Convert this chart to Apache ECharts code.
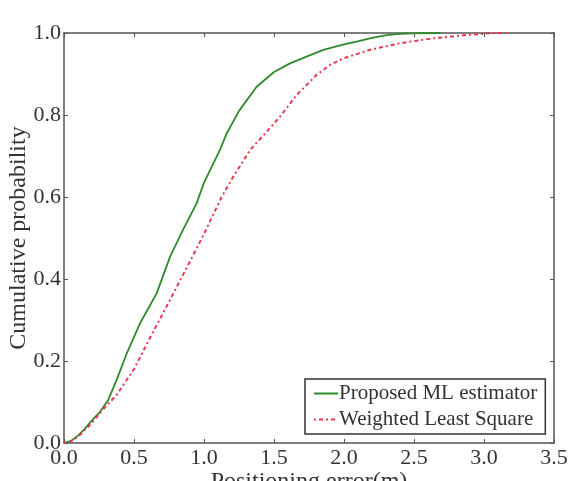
<!DOCTYPE html>
<html>
<head>
<meta charset="utf-8">
<script src="https://cdn.jsdelivr.net/npm/echarts@6/dist/echarts.min.js"></script>
<style>
  html, body { margin: 0; padding: 0; background: #fff; }
  #chart { width: 569px; height: 481px; }
</style>
</head>
<body>
<div id="chart"></div>
<script>
// positioning error (m), cumulative probability
var mlError = [0, 0.05, 0.1, 0.15, 0.2, 0.257, 0.316, 0.376, 0.45, 0.543, 0.662, 0.757, 0.85, 0.948, 1.0, 1.114, 1.162, 1.25, 1.376, 1.5, 1.614, 1.75, 1.852, 2.0, 2.09, 2.2, 2.305, 2.4, 2.495, 2.69];
var mlProb  = [0, 0.005, 0.018, 0.035, 0.055, 0.076, 0.105, 0.154, 0.22, 0.292, 0.365, 0.454, 0.52, 0.585, 0.635, 0.715, 0.755, 0.81, 0.869, 0.905, 0.926, 0.945, 0.959, 0.972, 0.979, 0.988, 0.995, 0.998, 0.999, 1.0];

var wlsError = [0, 0.05, 0.1, 0.186, 0.25, 0.3, 0.376, 0.448, 0.5, 0.6, 0.757, 0.85, 0.96, 1.0, 1.126, 1.21, 1.33, 1.45, 1.543, 1.662, 1.805, 1.9, 1.995, 2.186, 2.4, 2.638, 2.876, 3.06, 3.16];
var wlsProb  = [0, 0.004, 0.015, 0.044, 0.07, 0.09, 0.117, 0.154, 0.18, 0.247, 0.349, 0.41, 0.483, 0.51, 0.6, 0.65, 0.715, 0.76, 0.796, 0.849, 0.898, 0.922, 0.938, 0.959, 0.975, 0.987, 0.995, 1.0, 1.0];

var seriesNames = ["Proposed ML estimator", "Weighted Least Square"];

function pairs(xs, ys) {
  return xs.map(function (x, i) { return [x, ys[i]]; });
}

var font = "Liberation Serif";
var axisColor = "#555";
var tick = { inside: true, length: 4, lineStyle: { color: axisColor } };
var line = { show: true, onZero: false, lineStyle: { color: axisColor, width: 1.5 } };

var chart = echarts.init(document.getElementById("chart"));
chart.setOption({
  animation: false,
  textStyle: { fontFamily: font },
  grid: { left: 64, right: 15, top: 33, bottom: 38, outerBoundsMode: "none" },
  legend: {
    data: seriesNames,
    orient: "vertical",
    left: 305,
    top: 379,
    itemWidth: 24,
    itemHeight: 10,
    itemGap: 5,
    padding: [4, 8, 4, 8],
    borderColor: "#333",
    borderWidth: 1.5,
    backgroundColor: "#fff",
    itemStyle: { opacity: 0 },
    textStyle: { fontFamily: font, fontSize: 21, color: "#333", padding: [0, 0, 0, -4] }
  },
  xAxis: [{
    type: "value",
    min: 0, max: 3.5, interval: 0.5,
    name: "Positioning error(m)",
    nameLocation: "middle",
    nameGap: 27,
    nameMoveOverlap: false,
    nameTextStyle: { fontFamily: font, fontSize: 24, color: "#333" },
    axisLine: line,
    axisTick: tick,
    axisLabel: { fontFamily: font, fontSize: 22, color: "#333", margin: 4,
      formatter: function (v) { return v.toFixed(1); } },
    splitLine: { show: false }
  }, {
    type: "value", position: "top",
    min: 0, max: 3.5, interval: 0.5,
    axisLine: line,
    axisTick: tick,
    axisLabel: { show: false },
    splitLine: { show: false }
  }],
  yAxis: [{
    type: "value",
    min: 0, max: 1, interval: 0.2,
    name: "Cumulative probability",
    nameLocation: "middle",
    nameGap: 33,
    nameMoveOverlap: false,
    nameTextStyle: { fontFamily: font, fontSize: 24, color: "#333" },
    axisLine: line,
    axisTick: tick,
    axisLabel: { fontFamily: font, fontSize: 22, color: "#333", margin: 3,
      formatter: function (v) { return v.toFixed(1); } },
    splitLine: { show: false }
  }, {
    type: "value", position: "right",
    min: 0, max: 1, interval: 0.2,
    axisLine: line,
    axisTick: tick,
    axisLabel: { show: false },
    splitLine: { show: false }
  }],
  series: [{
    name: seriesNames[0],
    type: "line",
    data: pairs(mlError, mlProb),
    symbol: "none",
    lineStyle: { color: "#2f8a2f", width: 1.8 },
    itemStyle: { color: "#2f8a2f" }
  }, {
    name: seriesNames[1],
    type: "line",
    data: pairs(wlsError, wlsProb),
    symbol: "none",
    lineStyle: { color: "#e8384f", width: 2, type: [2, 3, 4, 3] },
    itemStyle: { color: "#e8384f" }
  }]
});
</script>
</body>
</html>
